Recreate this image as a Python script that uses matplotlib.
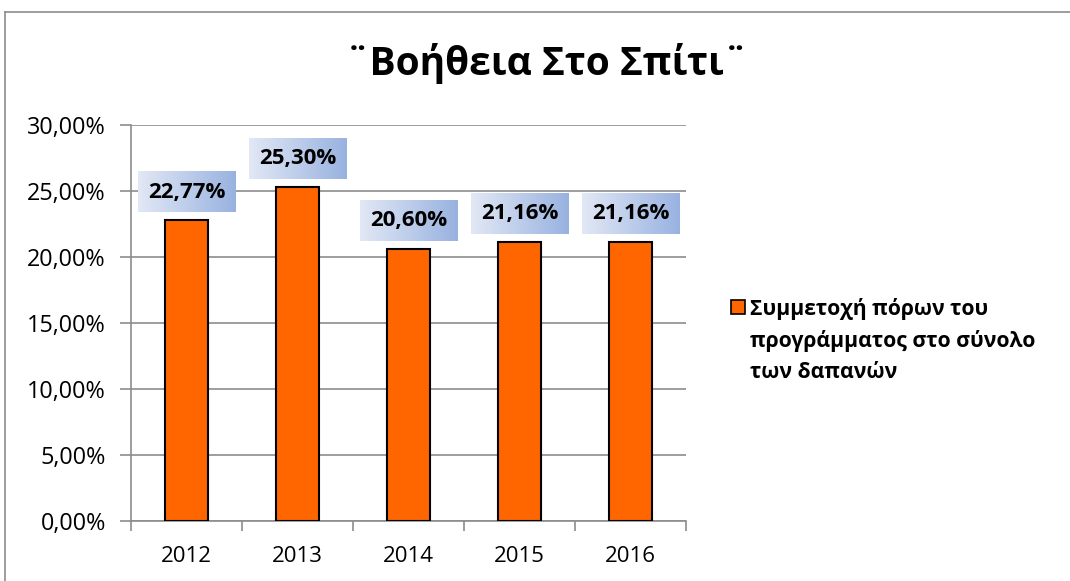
import matplotlib
matplotlib.use("Agg")
import matplotlib.pyplot as plt
import numpy as np
from matplotlib.patches import Rectangle
from matplotlib.lines import Line2D
from matplotlib.colors import LinearSegmentedColormap

years = ["2012", "2013", "2014", "2015", "2016"]
values = [22.77, 25.30, 20.60, 21.16, 21.16]
labels = ["22,77%", "25,30%", "20,60%", "21,16%", "21,16%"]
yticks = [0, 5, 10, 15, 20, 25, 30]
ytick_labels = ["0,00%", "5,00%", "10,00%", "15,00%", "20,00%", "25,00%", "30,00%"]
title = "¨Βοήθεια Στο Σπίτι¨"
legend_lines = ["Συμμετοχή πόρων του", "προγράμματος στο σύνολο", "των δαπανών"]

plt.rcParams['font.family'] = ['Open Sans', 'DejaVu Sans']

W, H = 1070, 581
fig = plt.figure(figsize=(W/100, H/100), dpi=100)
ax = fig.add_axes([131/W, 1-521/H, (686-131)/W, (521-125)/H])

x = np.arange(len(years))
ax.bar(x, values, width=0.39, color="#FF6600", edgecolor="black", linewidth=1.5, zorder=3)

ax.set_xlim(-0.5, len(years)-0.5)
ax.set_ylim(0, 30)
ax.set_yticks(yticks)
ax.set_yticklabels(ytick_labels, fontsize=16.8)
ax.yaxis.grid(True, color="#8c8c8c", linewidth=1.2, zorder=0)
ax.set_axisbelow(True)
ax.set_xticks(x)
ax.set_xticklabels(years, fontsize=16)
ax.set_xticks(np.arange(-0.5, len(years)), minor=True)
ax.tick_params(axis='x', which='major', length=0, pad=18)
ax.tick_params(axis='x', which='minor', length=7, color="#8c8c8c", width=1.2)
ax.tick_params(axis='y', length=8, color="#8c8c8c", width=1.2, pad=10)
for s in ["top", "right"]:
    ax.spines[s].set_visible(False)
for s in ["left", "bottom"]:
    ax.spines[s].set_color("#8c8c8c")
    ax.spines[s].set_linewidth(1.2)

cmap = LinearSegmentedColormap.from_list("g", ["#e2e8f5", "#98b2e0"])
grad = np.linspace(0, 1, 256).reshape(1, -1)
bw = 0.874
bh = 3.04
for xi, v, lab in zip(x, values, labels):
    y0 = v + 0.61
    ax.imshow(grad, cmap=cmap, extent=[xi-bw/2, xi+bw/2, y0, y0+bh],
              aspect='auto', zorder=4, interpolation='bilinear')
    ax.text(xi, y0+bh/2, lab, ha='center', va='center', fontsize=16,
            fontweight='bold', zorder=5)
ax.set_xlim(-0.5, len(years)-0.5)
ax.set_ylim(0, 30)

fig.text(547/W, 1-63/H, title, ha='center', va='center', fontsize=28, fontweight='bold')

# legend
fig.patches.append(Rectangle((731/W, 1-314/H), 14/W, 14/H, transform=fig.transFigure,
                             facecolor="#FF6600", edgecolor="black", linewidth=1.2))
for i, line in enumerate(legend_lines):
    fig.text(750/W, 1-(309+32*i)/H, line, ha='left', va='center', fontsize=15.2, fontweight='bold')

# outer frame
fig.add_artist(Line2D([5/W, 1], [1-12/H, 1-12/H], transform=fig.transFigure, color="#8c8c8c", linewidth=1.2))
fig.add_artist(Line2D([5/W, 5/W], [0, 1-12/H], transform=fig.transFigure, color="#8c8c8c", linewidth=1.2))

fig.savefig("out.png", dpi=100)
